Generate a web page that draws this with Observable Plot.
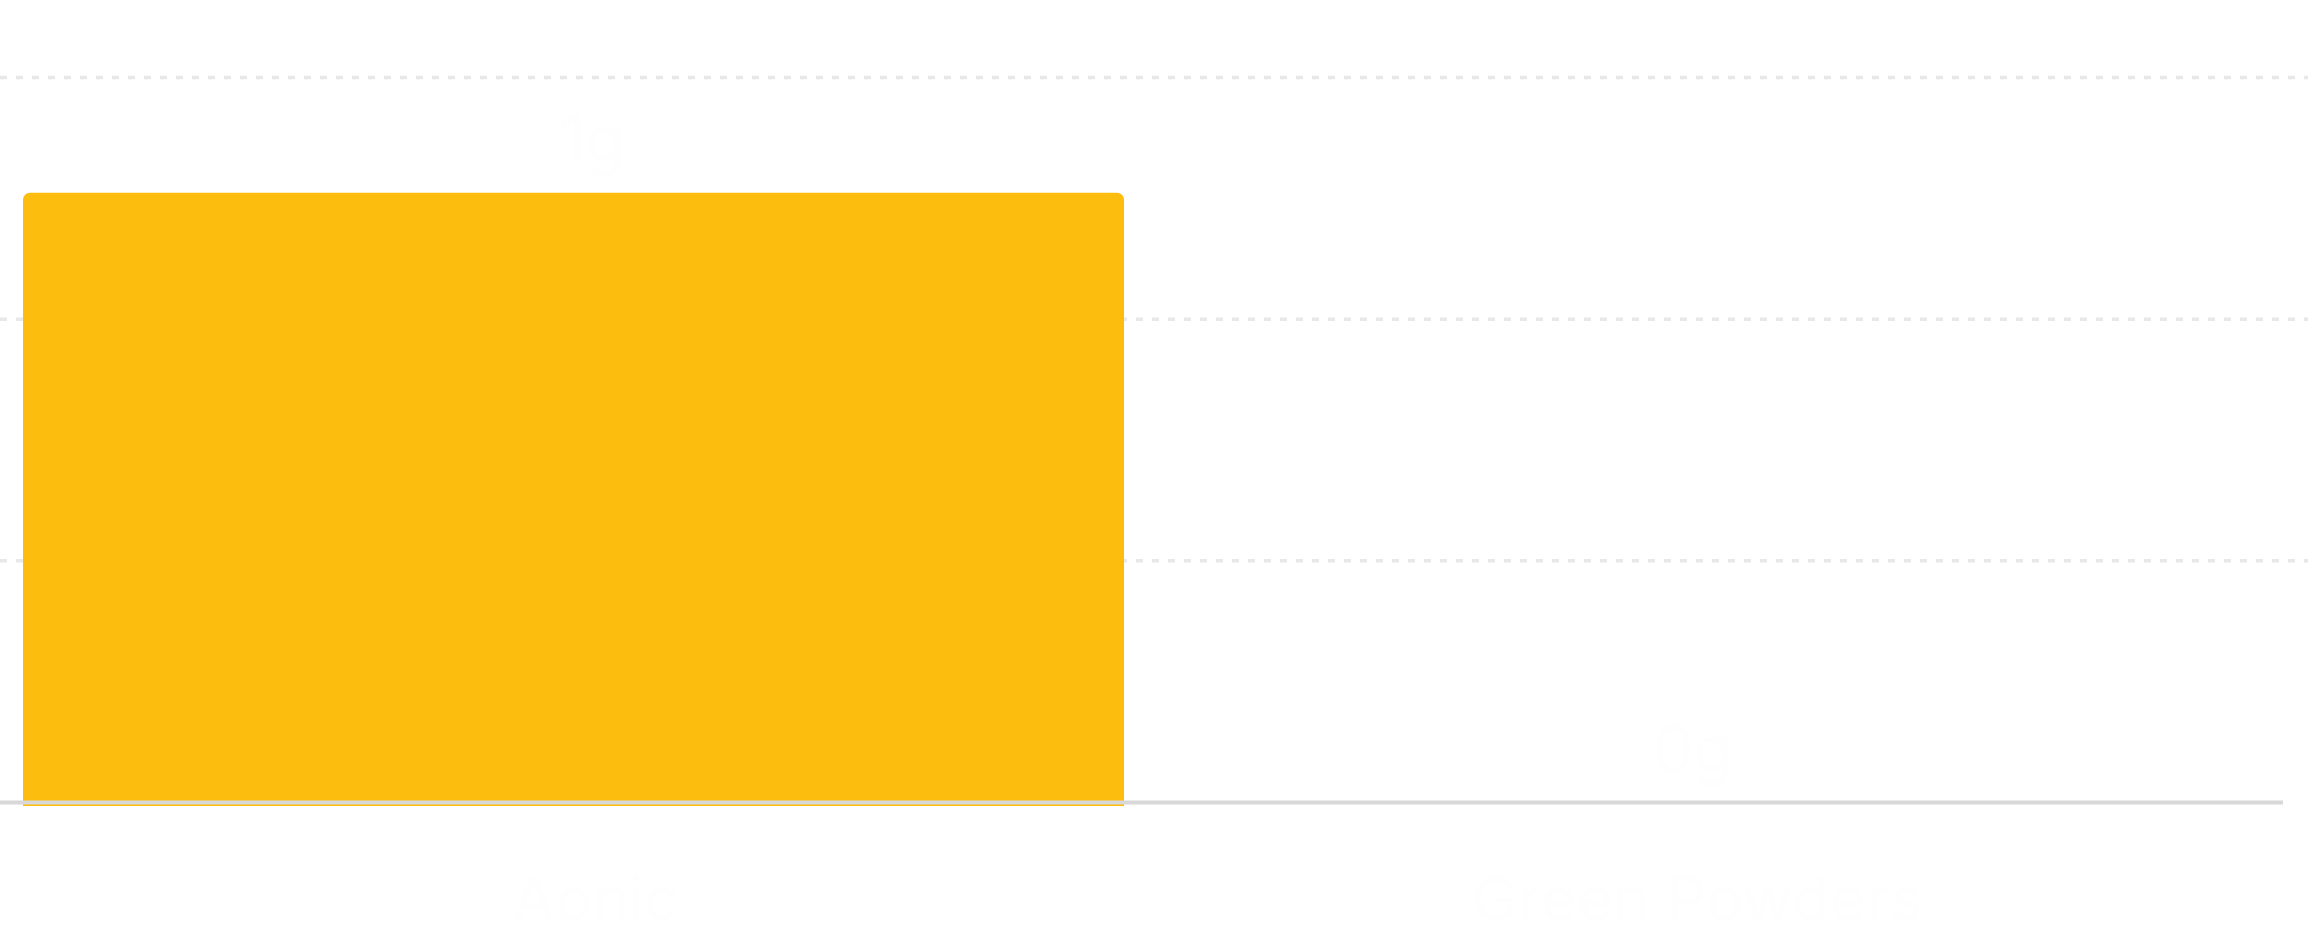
<!DOCTYPE html>
<html>
<head>
<meta charset="utf-8">
<script src="https://cdn.jsdelivr.net/npm/d3@7"></script>
<script src="https://cdn.jsdelivr.net/npm/@observablehq/plot@0.6"></script>
<style>
  html, body { margin: 0; padding: 0; background: #ffffff; }
  #chart svg { display: block; }
</style>
</head>
<body>
<div id="chart"></div>
<script>
const categories = ["Aonic", "Green Powders"];
const values = [1, 0];
const valueLabels = ["1g", "0g"];
const yMax = 1.19;
const gridTicks = [0, yMax / 3, (2 * yMax) / 3, yMax];

const data = categories.map((c, i) => ({ category: c, value: values[i], label: valueLabels[i] }));
const nonZero = data.filter(d => d.value > 0);

const textColor = "#fefefe";

const chart = Plot.plot({
  width: 2308,
  height: 940,
  marginTop: 77,
  marginBottom: 138,
  marginLeft: 0,
  marginRight: 0,
  style: { fontFamily: "Inter, 'Noto Sans', sans-serif", background: "#ffffff" },
  x: { type: "band", domain: categories, range: [0, 2248], paddingInner: 0, paddingOuter: 0.02, axis: null },
  y: { domain: [0, yMax], axis: null },
  marks: [
    Plot.ruleY(gridTicks.slice(1), { stroke: "#e8e8e8", strokeWidth: 3.5, strokeDasharray: "7,9" }),
    Plot.barY(nonZero, { x: "category", y: "value", fill: "#fcbd0e", rx: 7, insetBottom: -4 }),
    Plot.barY(nonZero, { x: "category", y1: 0, y2: d => d.value / 2, fill: "#fcbd0e", insetBottom: -4 }),
    Plot.ruleY([0], { stroke: "#d8d8d8", strokeWidth: 4, insetRight: 25 }),
    Plot.text(data, { x: "category", y: "value", text: "label", dy: -31, dx: 18, lineAnchor: "bottom", fontSize: 64, fill: textColor }),
    Plot.text(data, { x: "category", text: "category", frameAnchor: "bottom", lineAnchor: "bottom", dy: 118, dx: 22, fontSize: 62, fill: textColor })
  ]
});

document.getElementById("chart").appendChild(chart);
</script>
</body>
</html>
